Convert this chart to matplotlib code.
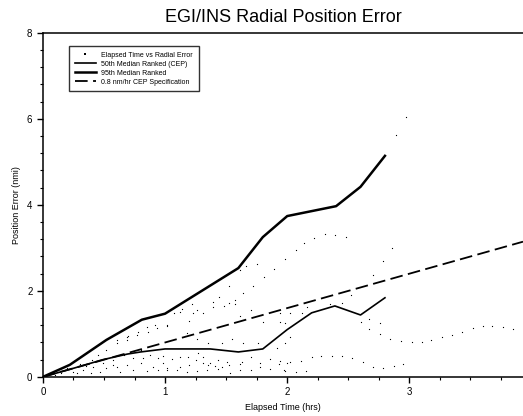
import matplotlib
matplotlib.use("Agg")
import matplotlib.pyplot as plt
from matplotlib.ticker import MultipleLocator
import numpy as np

plt.rcParams["font.family"] = ["Liberation Sans", "DejaVu Sans"]

# 95th median ranked curve
p95_t = [0.0, 0.22, 0.52, 0.81, 1.0, 1.6, 1.8, 2.0, 2.4, 2.6, 2.8]
p95_e = [0.0, 0.28, 0.86, 1.33, 1.47, 2.53, 3.25, 3.74, 3.97, 4.42, 5.14]

# 50th median ranked (CEP) curve
p50_t = [0.0, 0.25, 0.49, 0.69, 0.8, 1.0, 1.37, 1.6, 1.8, 2.0, 2.2, 2.39, 2.6, 2.8]
p50_e = [0.0, 0.2, 0.40, 0.53, 0.58, 0.65, 0.65, 0.58, 0.65, 1.1, 1.49, 1.65, 1.44, 1.84]

# spec line 0.8 nm/hr
spec_rate = 0.8
t_max = 3.93

# elapsed time vs radial error samples
pts_t = [
    1.94, 2.02, 2.02, 2.12, 2.16, 2.35, 2.45, 2.60, 2.67, 2.67, 2.76, 2.76, 2.84,
    2.93, 3.02, 3.10, 3.18, 3.27, 3.35, 3.43, 3.52, 3.60, 3.68, 3.77, 3.85,
    1.94, 2.02, 2.11, 2.20, 2.28, 2.37, 2.45, 2.53, 2.62, 2.70, 2.78, 2.87, 2.95,
    1.98, 2.07, 2.15,
    1.98, 2.07, 2.14, 2.22, 2.31, 2.39, 2.48, 2.86, 2.78, 2.70, 2.52, 2.97, 2.89,
    1.89, 1.75, 1.66, 1.61, 1.81, 1.72, 1.52, 1.64, 1.44, 1.39, 1.57, 1.52, 1.22,
    1.39, 1.48, 1.57, 1.23, 1.31, 1.14, 1.07, 1.02, 1.20, 1.70, 1.61, 1.94, 1.80,
    1.98, 1.18, 1.26, 1.35, 1.47, 1.55, 1.64, 1.76, 1.92, 1.98,
    0.98, 1.06, 1.12, 1.19, 1.27, 1.31, 1.25, 1.31, 1.37, 1.43, 1.51, 1.63, 1.70,
    1.78, 1.86, 1.93, 1.12, 1.20, 1.35, 1.41, 1.47, 1.52, 1.61, 1.02, 1.10, 1.18,
    1.26, 1.34, 1.43, 1.53, 1.70, 1.78, 1.86, 1.97, 1.61, 2.00,
    0.85, 0.92, 0.78, 0.70, 0.61, 0.52, 0.77, 0.69, 0.86, 1.02, 0.93, 0.80, 0.66,
    0.88, 0.94, 0.74, 0.57, 0.49, 0.41, 0.33, 0.39, 0.52, 0.61, 0.69, 0.80, 0.90,
    0.98, 0.63, 0.74, 0.85, 0.94, 1.02, 0.47, 0.28, 0.57, 0.82,
    1.12, 1.26, 0.61, 0.69,
    0.10, 0.15, 0.20, 0.25, 0.30, 0.35, 0.45, 0.40,
]
pts_e = [
    1.28, 0.93, 1.49, 1.49, 1.63, 1.70, 1.72, 1.28, 1.35, 1.12, 1.26, 1.00, 0.88,
    0.84, 0.81, 0.81, 0.86, 0.93, 0.98, 1.05, 1.14, 1.19, 1.19, 1.16, 1.12,
    0.37, 0.35, 0.37, 0.47, 0.49, 0.49, 0.49, 0.44, 0.35, 0.23, 0.21, 0.26, 0.30,
    0.14, 0.12, 0.14,
    2.74, 2.95, 3.12, 3.23, 3.33, 3.30, 3.26, 3.00, 2.70, 2.37, 1.91, 6.05, 5.63,
    2.51, 2.63, 2.58, 2.49, 2.33, 2.12, 2.12, 1.95, 1.86, 1.74, 1.79, 1.72, 1.70,
    1.63, 1.65, 1.70, 1.49, 1.49, 1.58, 1.49, 1.19, 1.30, 1.56, 1.42, 1.49, 1.28,
    1.26, 1.02, 0.88, 0.79, 0.79, 0.88, 0.79, 0.79, 0.67, 0.79,
    0.49, 0.42, 0.47, 0.47, 0.56, 0.47, 0.40, 0.33, 0.33, 0.40, 0.35, 0.35, 0.47,
    0.33, 0.42, 0.30, 0.23, 0.28, 0.28, 0.26, 0.23, 0.28, 0.30, 0.16, 0.16, 0.12,
    0.14, 0.16, 0.19, 0.09, 0.16, 0.23, 0.19, 0.16, 0.16, 0.33,
    1.16, 1.21, 1.05, 0.95, 0.79, 0.63, 0.98, 0.86, 1.05, 1.21, 1.14, 0.63, 0.51,
    0.51, 0.44, 0.44, 0.40, 0.33, 0.23, 0.16, 0.09, 0.21, 0.23, 0.28, 0.33, 0.23,
    0.33, 0.12, 0.16, 0.14, 0.16, 0.21, 0.12, 0.09, 0.28, 0.44,
    1.51, 1.56, 0.86, 0.93,
    0.05, 0.10, 0.20, 0.12, 0.30, 0.25, 0.50, 0.40,
]

fig = plt.figure(figsize=(5.23, 4.16), dpi=100)
ax = fig.add_axes([0.082, 0.094, 0.918, 0.827])

ax.plot(pts_t, pts_e, linestyle="none", marker="s", markersize=0.8,
        markeredgewidth=0, color="black", label="Elapsed Time vs Radial Error")
ax.plot(p50_t, p50_e, color="black", linewidth=1.2,
        label="50th Median Ranked (CEP)")
ax.plot(p95_t, p95_e, color="black", linewidth=1.8,
        label="95th Median Ranked")
spec_t = np.array([0.0, t_max])
ax.plot(spec_t, spec_rate * spec_t, color="black", linewidth=1.3,
        linestyle=(0, (7, 3)), label="0.8 nm/hr CEP Specification")

ax.set_xlim(0, t_max)
ax.set_ylim(0, 8)
ax.xaxis.set_major_locator(MultipleLocator(1))
ax.xaxis.set_minor_locator(MultipleLocator(0.25))
ax.yaxis.set_major_locator(MultipleLocator(2))
ax.yaxis.set_minor_locator(MultipleLocator(0.4))
ax.tick_params(which="major", direction="out", length=4, width=1, labelsize=7)
ax.tick_params(which="minor", direction="out", length=2.5, width=0.8)
ax.spines["right"].set_visible(False)
for s in ["left", "bottom", "top"]:
    ax.spines[s].set_linewidth(1.1)

ax.set_title("EGI/INS Radial Position Error", fontsize=13, pad=8)
ax.set_xlabel("Elapsed Time (hrs)", fontsize=6.5, labelpad=4)
ax.set_ylabel("Position Error (nmi)", fontsize=6.5, labelpad=4)

leg = ax.legend(loc="upper left", bbox_to_anchor=(0.048, 0.972), fontsize=5,
                frameon=True, fancybox=False, edgecolor="black",
                handlelength=3.0, borderpad=0.8, labelspacing=0.3,
                markerscale=1.8)
leg.get_frame().set_linewidth(1.0)

fig.savefig("out.png", dpi=100)
